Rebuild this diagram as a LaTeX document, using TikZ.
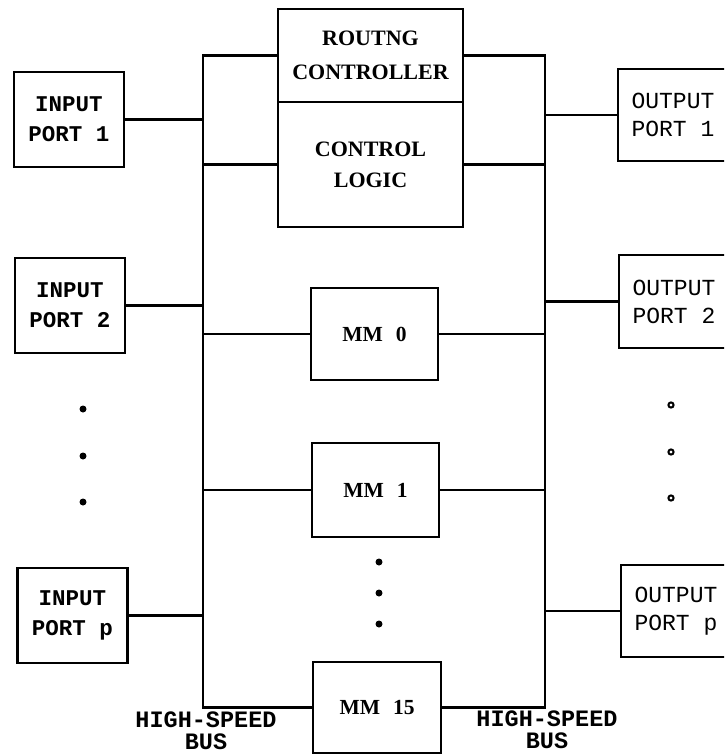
\documentclass[tikz,border=0pt]{standalone}
\usepackage{fontspec}
\setmainfont{Liberation Serif}
\newfontfamily\monof{Liberation Mono}
\begin{document}
\begin{tikzpicture}[x=1pt,y=-1pt,line width=2.9pt,
  box/.style={draw, line width=2.9pt, inner sep=0pt, align=center},
  inbox/.style={box, minimum width=110pt, minimum height=95pt, font=\monof\bfseries\fontsize{22.5}{30}\selectfont},
  outbox/.style={box, minimum width=110pt, minimum height=92pt, font=\monof\fontsize{23}{28}\selectfont},
  mmbox/.style={box, minimum width=127pt, minimum height=92pt, font=\bfseries\fontsize{21.5}{24}\selectfont},
  ctlbox/.style={box, minimum width=185pt, font=\bfseries\fontsize{22}{34}\selectfont},
  lbl/.style={align=center, inner sep=0pt, font=\monof\bfseries\fontsize{23.5}{22}\selectfont}]
\useasboundingbox (0,0) rectangle (724,756);
\clip (0,0) rectangle (724,756);
% control boxes
\node[ctlbox, minimum height=93pt] (rc) at (370.5,55.5) {ROUTNG\\CONTROLLER};
\node[ctlbox, minimum height=125pt, font=\bfseries\fontsize{22}{31}\selectfont] (cl) at (370.5,164.5) {CONTROL\\LOGIC};
% memory modules
\node[mmbox] (mm0) at (374.5,334) {MM\hspace{0.6em}0};
\node[mmbox, minimum height=94pt] (mm1) at (375.5,490) {MM\hspace{0.6em}1};
\node[mmbox, minimum width=128pt, minimum height=91pt] (mm15) at (377,707.5) {MM\hspace{0.6em}15};
% input ports
\node[inbox] (in1) at (69,119.5) {INPUT\\PORT 1};
\node[inbox] (in2) at (70,305.5) {INPUT\\PORT 2};
\node[inbox] (inp) at (72.5,615.5) {INPUT\\PORT p};
% output ports
\node[outbox] (out1) at (673,115) {OUTPUT\\PORT 1};
\node[outbox, minimum height=93pt] (out2) at (674,301.5) {OUTPUT\\PORT 2};
\node[outbox] (outp) at (676,611) {OUTPUT\\PORT p};
% bus positions
\coordinate (LB) at (203,705);
\coordinate (RB) at (545,705);
% buses
\draw (rc.west) -| (mm15.west -| LB) -- (mm15.west);
\draw (rc.east) -| (mm15.east -| RB) -- (mm15.east);
\draw (cl.west) -- (cl.west -| LB);
\draw (cl.east) -- (cl.east -| RB);
\draw (mm0.west) -- (mm0.west -| LB);
\draw (mm0.east) -- (mm0.east -| RB);
\draw (mm1.west) -- (mm1.west -| LB);
\draw (mm1.east) -- (mm1.east -| RB);
\draw (in1.east) -- (in1.east -| LB);
\draw (in2.east) -- (in2.east -| LB);
\draw (inp.east) -- (inp.east -| LB);
\draw (out1.west) -- (out1.west -| RB);
\draw (out2.west) -- (out2.west -| RB);
\draw (outp.west) -- (outp.west -| RB);
% dots
\foreach \y in {409,456,502} \fill (83,\y) circle (3.5);
\foreach \y in {562,593,624} \fill (379,\y) circle (3.5);
\foreach \y in {405,452,498} \draw[line width=2pt] (671,\y) circle (2.6);
% labels
\node[lbl] (hsl) at (206,731) {HIGH-SPEED\\BUS};
\node[lbl] (hsr) at (547,730) {HIGH-SPEED\\BUS};
\end{tikzpicture}
\end{document}
